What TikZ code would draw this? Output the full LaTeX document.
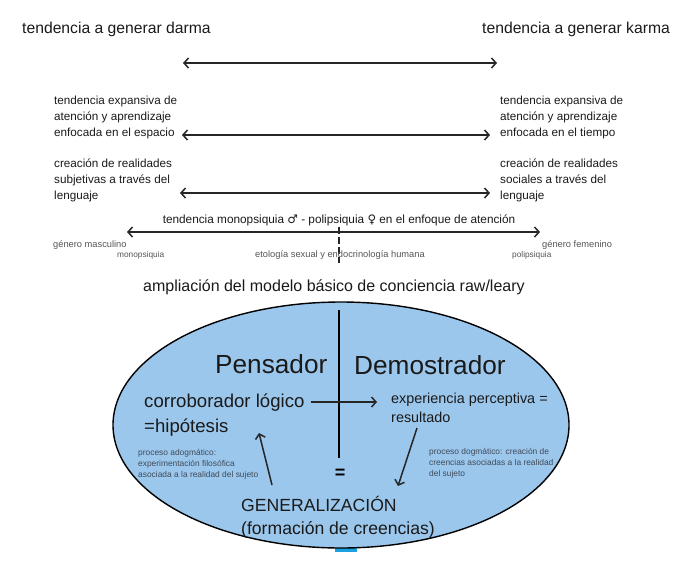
\documentclass[tikz,border=0pt]{standalone}
\usepackage{fontspec}
\setmainfont{Liberation Sans}
\newfontfamily\symfont{DejaVu Sans}
\usetikzlibrary{arrows.meta}
\definecolor{ellfill}{RGB}{156,199,236}
\definecolor{arrowc}{RGB}{38,38,38}
\definecolor{txt}{RGB}{26,26,26}
\definecolor{graytxt}{RGB}{85,85,85}
\definecolor{slatetxt}{RGB}{62,74,90}
\definecolor{handle}{RGB}{27,161,226}
\begin{document}
\begin{tikzpicture}[x=1pt,y=-1pt,
  >={Straight Barb[length=4.5pt,width=10pt]},
  lbl/.style={inner sep=0pt, anchor=base west, text=txt},
  toptxt/.style={lbl, font=\fontsize{15.7}{19}\selectfont},
  midtxt/.style={lbl, align=left, font=\fontsize{11.7}{16}\selectfont},
  tinytxt/.style={lbl, text=graytxt},
  proctxt/.style={lbl, align=left, text=slatetxt, font=\fontsize{8.4}{11}\selectfont},
  dbl/.style={draw=arrowc, line width=1.5pt, <->},
  sgl/.style={draw=arrowc, line width=1.5pt, ->},
]
\useasboundingbox (0,0) rectangle (695,571);

% top row
\node[toptxt] (darma) at (22,33) {tendencia a generar darma};
\node[toptxt] (karma) at (482,33) {tendencia a generar karma};
\coordinate (a1l) at (183,63);
\coordinate (a1r) at (497,63);
\draw[dbl] (a1l) -- (a1r);

% second row (base anchor = last line)
\node[midtxt] (espacio) at (54,136) {tendencia expansiva de\\atención y aprendizaje\\enfocada en el espacio};
\node[midtxt] (tiempo) at (500,136) {tendencia expansiva de\\atención y aprendizaje\\enfocada en el tiempo};
\coordinate (a2l) at (182,135);
\coordinate (a2r) at (490,135);
\draw[dbl] (a2l) -- (a2r);

% third row
\node[midtxt] (subj) at (54,199) {creación de realidades\\subjetivas a través del\\lenguaje};
\node[midtxt] (soc) at (500,199) {creación de realidades\\sociales a través del\\lenguaje};
\coordinate (a3l) at (180,193);
\coordinate (a3r) at (490,193);
\draw[dbl] (a3l) -- (a3r);

% monopsiquia axis
\node[lbl, anchor=base, font=\fontsize{11.8}{14}\selectfont] (mono) at (339,223)
  {tendencia monopsiquia {\symfont ♂} - polipsiquia {\symfont ♀} en el enfoque de atención};
\coordinate (a4l) at (127,232);
\coordinate (a4r) at (540,232);
\draw[dbl] (a4l) -- (a4r);
\coordinate (tickt) at (339,227);
\coordinate (tickb) at (339,263);
\draw[draw=arrowc, line width=1.3pt, dash pattern=on 7pt off 3pt] (tickt) -- (tickb);
\node[tinytxt, font=\fontsize{9.3}{11}\selectfont] (masc) at (53,247) {género masculino};
\node[tinytxt, font=\fontsize{8.3}{10}\selectfont] (monop) at (117,257) {monopsiquia};
\node[tinytxt, font=\fontsize{9.3}{11}\selectfont] (etol) at (255,257) {etología sexual y endocrinología humana};
\node[tinytxt, font=\fontsize{9.3}{11}\selectfont] (fem) at (542,247) {género femenino};
\node[tinytxt, font=\fontsize{8.3}{10}\selectfont] (polip) at (512,257) {polipsiquia};

% title of model
\node[lbl, font=\fontsize{16}{19}\selectfont] (ampl) at (143,291) {ampliación del modelo básico de conciencia raw/leary};

% ellipse
\fill[handle] (335,546) rectangle (357,552);
\draw[fill=ellfill, draw=black, line width=1.4pt] (341,425) ellipse [x radius=228pt, y radius=123pt];
\coordinate (vt) at (339,310);
\coordinate (vb) at (339,458);
\draw[black, line width=1.5pt] (vt) -- (vb);

\node[lbl, font=\fontsize{26.2}{30}\selectfont] (pens) at (215,373) {Pensador};
\node[lbl, font=\fontsize{26.2}{30}\selectfont] (demo) at (354,374) {Demostrador};

\node[lbl, align=left, font=\fontsize{18.6}{25}\selectfont] (corr) at (144,432) {corroborador lógico\\=hipótesis};
\node[lbl, align=left, font=\fontsize{14.4}{19}\selectfont] (exper) at (391,422) {experiencia perceptiva =\\resultado};

\coordinate (h1) at (311,402);
\coordinate (h2) at (377,402);
\draw[sgl] (h1) -- (h2);

\coordinate (d1) at (417,428);
\coordinate (d2) at (398,486);
\draw[sgl] (d1) -- (d2);

\coordinate (u1) at (272,485);
\coordinate (u2) at (259,433);
\draw[sgl] (u1) -- (u2);

\node[proctxt] (adog) at (138,477) {proceso adogmático:\\experimentación filosófica\\asociada a la realidad del sujeto};
\node[proctxt] (dog) at (429,476) {proceso dogmático: creación de\\creencias asociadas a la realidad\\del sujeto};

\node[inner sep=0pt, font=\fontsize{18}{20}\selectfont\bfseries] (eq) at (340,474) {=};

\node[lbl, align=left, font=\fontsize{17.6}{23}\selectfont] (gen) at (241,534) {GENERALIZACIÓN\\(formación de creencias)};
\end{tikzpicture}
\end{document}
